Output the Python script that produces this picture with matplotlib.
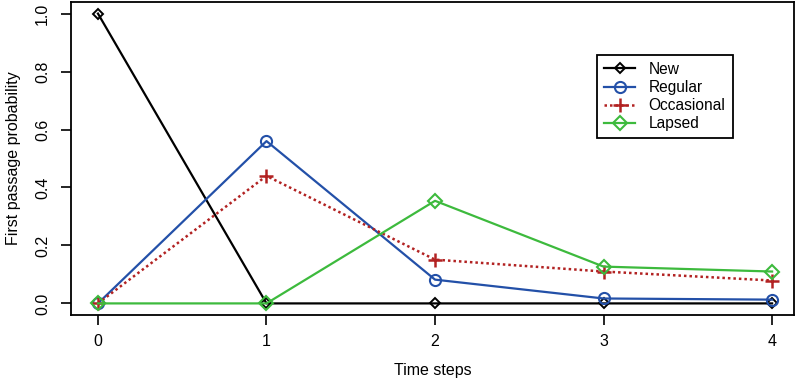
import matplotlib
matplotlib.use('Agg')
import matplotlib.pyplot as plt

plt.rcParams['font.family'] = ['Liberation Sans', 'DejaVu Sans']

steps = [0, 1, 2, 3, 4]
new = [1.0, 0.0, 0.0, 0.0, 0.0]
regular = [0.0, 0.56, 0.082, 0.017, 0.013]
occasional = [0.0, 0.44, 0.151, 0.11, 0.079]
lapsed = [0.0, 0.0, 0.354, 0.127, 0.11]

fig = plt.figure(figsize=(8, 3.82), dpi=100)
ax = fig.add_axes([71 / 800, 67 / 382, 723 / 800, 313 / 382])

ax.plot(steps, new, color='black', lw=1.6, marker='D', ms=5, mfc='none', mew=1.4, label='New')
ax.plot(steps, regular, color='#2350a8', lw=1.6, marker='o', ms=8, mfc='none', mew=1.5, label='Regular')
ax.plot(steps, occasional, color='#b22222', lw=1.8, ls=(0, (1, 1.2)), marker='+', ms=10, mew=1.8, label='Occasional')
ax.plot(steps, lapsed, color='#3dba3d', lw=1.6, marker='D', ms=7.5, mfc='none', mew=1.5, label='Lapsed')

ax.set_xlim(-0.16, 4.13)
ax.set_ylim(-0.04, 1.04)
ax.set_xticks(steps)
ax.set_yticks([0.0, 0.2, 0.4, 0.6, 0.8, 1.0])
ax.set_yticklabels(['0.0', '0.2', '0.4', '0.6', '0.8', '1.0'], rotation=90, va='center')
ax.tick_params(direction='out', length=7, width=1.2, labelsize=11.5)
ax.tick_params(axis='x', pad=7)
ax.tick_params(axis='y', pad=8)
for s in ax.spines.values():
    s.set_linewidth(1.3)

ax.set_xlabel('Time steps', fontsize=11.5, labelpad=10)
ax.set_ylabel('First passage probability', fontsize=11.5, labelpad=10)

leg = ax.legend(loc='upper left', bbox_to_anchor=(0.728, 0.831), fontsize=11.2, frameon=True,
                fancybox=False, edgecolor='black', handlelength=2.0, borderpad=0.45,
                labelspacing=0.2, handletextpad=0.85, borderaxespad=0, framealpha=1)
leg.get_frame().set_linewidth(1.3)

fig.savefig('out.png', dpi=100)
